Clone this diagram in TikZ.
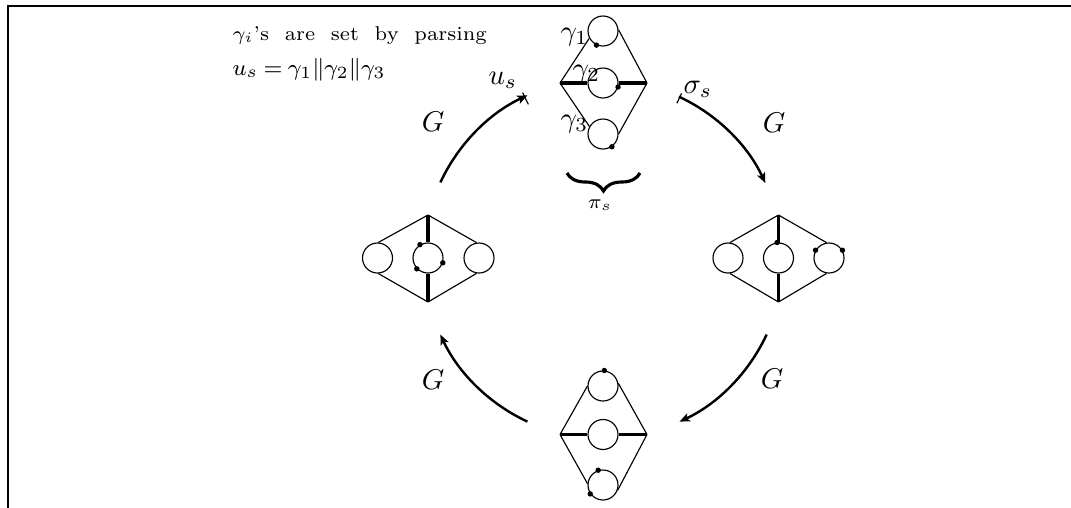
\documentclass[tikz,border=0pt]{standalone}
\usetikzlibrary{arrows.meta,calc,decorations.pathreplacing}
\begin{document}
\begin{tikzpicture}[x=0.35pt,y=-0.35pt,
  every path/.style={line width=0.4pt},
  heavy/.style={line width=1.1pt},
  loopc/.style={circle,draw,line width=0.4pt,minimum size=10.5pt,inner sep=0pt},
  vtx/.style={circle,fill,inner sep=0pt,minimum size=1.9pt},
  flow/.style={line width=0.85pt,-{Stealth[length=3.6pt,width=3pt,inset=0.9pt]}},
  lbl/.style={inner sep=0pt},
  small/.style={inner sep=0pt,font=\scriptsize}]
\useasboundingbox (0,0) rectangle (1071,508);

% frame
\draw[line width=0.8pt] (8,508) -- (8,6) -- (1071,6);

% note
\node[small,anchor=base west] (note1) at (232,40)
  {\makebox[89pt][s]{$\gamma_i$'s are set by parsing}};
\node[small,anchor=base west,font=\footnotesize] (note2) at (232,75)
  {\makebox[53.5pt][l]{$u_s$\hfill$=$\hfill$\gamma_1\|\gamma_2\|\gamma_3$}};

% top graph
\coordinate (tL) at (560,83);
\coordinate (tR) at (647,83);
\node[loopc] (t1) at (603,31) {};
\node[loopc] (t2) at (603,83) {};
\node[loopc] (t3) at (603,134) {};
\draw (tL) -- (t1.208);
\draw (t1.5) -- (tR);
\draw[heavy] (tL) -- (t2.west);
\draw[heavy] (t2.east) -- (tR);
\draw (tL) -- (t3.151);
\draw (t3.0) -- (tR);
\node[vtx] (tp1) at (t1.245) {};
\node[vtx] (tp2) at (t2.-15) {};
\node[vtx] (tp3) at (t3.-55) {};
\node[lbl,anchor=base west] (gam1) at (560,40) {$\gamma_1$};
\node[lbl,anchor=base west] (gam2) at (572,77) {$\gamma_2$};
\node[lbl,anchor=base west] (gam3) at (560,127) {$\gamma_3$};
\draw[decorate,decoration={brace,mirror,amplitude=6.3pt},line width=1.1pt]
  (567,173) coordinate (brL) -- (640,173) coordinate (brR);
\node[small,anchor=base] (pis) at (600,208) {$\pi_s$};

% left graph
\coordinate (lT) at (428,215);
\coordinate (lB) at (428,302);
\node[loopc] (l1) at (377.5,258) {};
\node[loopc] (l2) at (428,258) {};
\node[loopc] (l3) at (479,258) {};
\draw (lT) -- (l1.87);
\draw (lT) -- (l3.99);
\draw (lB) -- (l1.-87);
\draw (lB) -- (l3.-99);
\draw[heavy] (lT) -- (l2.north);
\draw[heavy] (l2.south) -- (lB);
\node[vtx] (lp1) at (l2.121) {};
\node[vtx] (lp2) at (l2.224) {};
\node[vtx] (lp3) at (l2.-18) {};

% right graph
\coordinate (rT) at (778.5,215);
\coordinate (rB) at (778.5,302);
\node[loopc] (r1) at (728,258) {};
\node[loopc] (r2) at (778.5,258) {};
\node[loopc] (r3) at (829,258) {};
\draw (rT) -- (r1.83);
\draw (rT) -- (r3.99);
\draw (rB) -- (r1.-83);
\draw (rB) -- (r3.-99);
\draw[heavy] (rT) -- (r2.north);
\draw[heavy] (r2.south) -- (rB);
\node[vtx] (rp1) at (r2.95) {};
\node[vtx] (rp2) at (r3.150) {};
\node[vtx] (rp3) at (r3.30) {};

% bottom graph
\coordinate (bL) at (560,434.5);
\coordinate (bR) at (647,434.5);
\node[loopc] (b1) at (603,386) {};
\node[loopc] (b2) at (603,434.5) {};
\node[loopc] (b3) at (603,485) {};
\draw (bL) -- (b1.180);
\draw (b1.10) -- (bR);
\draw[heavy] (bL) -- (b2.west);
\draw[heavy] (b2.east) -- (bR);
\draw (bL) -- (b3.175);
\draw (b3.-20) -- (bR);
\node[vtx] (bp1) at (b1.85) {};
\node[vtx] (bp2) at (b3.108) {};
\node[vtx] (bp3) at (b3.215) {};

% cycle of moves
\coordinate (C) at (603.5,258.5);
\draw[flow] ($(C)+(155:63pt)$) arc[start angle=155,end angle=115,radius=63pt];
\draw ($(C)+(116:60pt)$) -- ($(C)+(116:64.6pt)$);
\draw[flow] ($(C)+(65:62.5pt)$) arc[start angle=65,end angle=25,radius=62.5pt];
\draw ($(C)+(64.7:60.1pt)$) -- ($(C)+(64.7:63.9pt)$);
\draw[flow] ($(C)+(-25:63pt)$) arc[start angle=-25,end angle=-65,radius=63pt];
\draw[flow] ($(C)+(-115:63pt)$) arc[start angle=-115,end angle=-155,radius=63pt];

\node[lbl] (Gul) at (433,122) {$G$};
\node[lbl] (Gur) at (774,123) {$G$};
\node[lbl] (Glr) at (772,379) {$G$};
\node[lbl] (Gll) at (433,380) {$G$};
\node[lbl,anchor=base west] (us) at (488,84) {$u_s$};
\node[lbl,anchor=base west] (ss) at (683,93) {$\sigma_s$};
\end{tikzpicture}
\end{document}
